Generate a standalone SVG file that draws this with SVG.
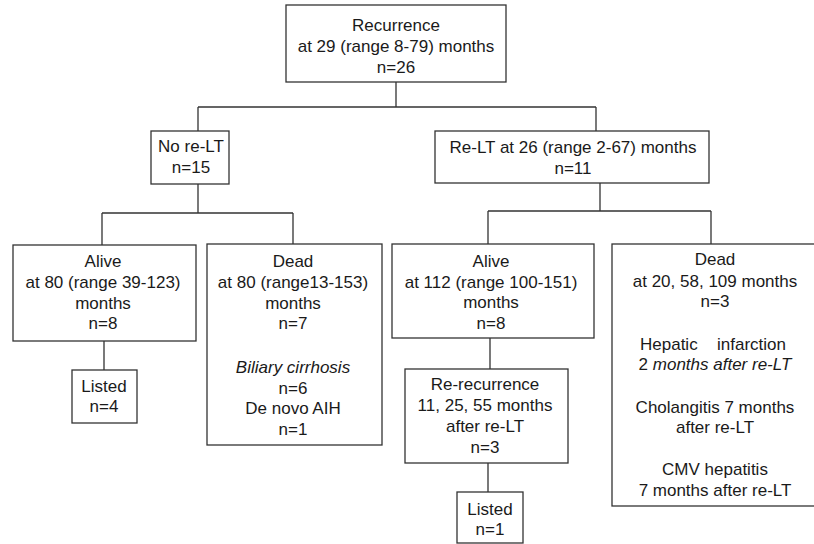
<svg xmlns="http://www.w3.org/2000/svg" width="814" height="544" viewBox="0 0 814 544">
<style>
.box{fill:#fff;stroke:#333;stroke-width:1.3}
.ln{fill:none;stroke:#333;stroke-width:1.3}
text{font-family:"Liberation Sans",Arial,Helvetica,sans-serif;font-size:17px;fill:#1a1a1a;text-anchor:middle}
.it{font-style:italic}
</style>
<rect width="814" height="544" fill="#fff"/>
<g id="connectors">
<path class="ln" d="M396,82 V107 M198,107 H596 M198,107 V131 M596,107 V131"/>
<path class="ln" d="M198,184 V213 M102,213 H293 M102,213 V245 M293,213 V244 M104,341 V370"/>
<path class="ln" d="M600,183 V211 M488,211 H711 M488,211 V244 M711,211 V244 M490,338 V369 M488,463 V492"/>
</g>
<g id="recurrence">
<rect class="box" x="286" y="5" width="220" height="77"/>
<text x="396" y="31">Recurrence</text>
<text x="396" y="52">at 29 (range 8-79) months</text>
<text x="396" y="73">n=26</text>
</g>
<g id="no-relt">
<rect class="box" x="151" y="131" width="78" height="53"/>
<text x="191" y="152">No re-LT</text>
<text x="191" y="173">n=15</text>
</g>
<g id="relt">
<rect class="box" x="435" y="131" width="274" height="52"/>
<text x="573" y="153">Re-LT at 26 (range 2-67) months</text>
<text x="573" y="174">n=11</text>
</g>
<g id="alive-left">
<rect class="box" x="13" y="245" width="183" height="96"/>
<text x="103" y="267">Alive</text>
<text x="103" y="288">at 80 (range 39-123)</text>
<text x="103" y="309">months</text>
<text x="103" y="329">n=8</text>
</g>
<g id="dead-left">
<rect class="box" x="207" y="244" width="175" height="201"/>
<text x="293" y="267">Dead</text>
<text x="293" y="288">at 80 (range13-153)</text>
<text x="293" y="309">months</text>
<text x="293" y="329">n=7</text>
<text x="293" y="373" class="it">Biliary cirrhosis</text>
<text x="293" y="394">n=6</text>
<text x="293" y="414">De novo AIH</text>
<text x="293" y="435">n=1</text>
</g>
<g id="listed-left">
<rect class="box" x="72" y="370" width="65" height="53"/>
<text x="104" y="392">Listed</text>
<text x="104" y="412">n=4</text>
</g>
<g id="alive-right">
<rect class="box" x="392" y="244" width="202" height="94"/>
<text x="491" y="267">Alive</text>
<text x="491" y="288">at 112 (range 100-151)</text>
<text x="491" y="308">months</text>
<text x="491" y="329">n=8</text>
</g>
<g id="rerecurrence">
<rect class="box" x="405" y="369" width="163" height="94"/>
<text x="485" y="390">Re-recurrence</text>
<text x="485" y="411">11, 25, 55 months</text>
<text x="485" y="432">after re-LT</text>
<text x="485" y="453">n=3</text>
</g>
<g id="listed-right">
<rect class="box" x="457" y="492" width="66" height="51"/>
<text x="490" y="515">Listed</text>
<text x="490" y="535">n=1</text>
</g>
<g id="dead-right">
<rect class="box" x="612" y="244" width="206" height="262"/>
<text x="715" y="265">Dead</text>
<text x="715" y="287">at 20, 58, 109 months</text>
<text x="715" y="307">n=3</text>
<text x="640" y="350" style="text-anchor:start">Hepatic</text>
<text x="717" y="350" style="text-anchor:start">infarction</text>
<text x="715" y="370">2 <tspan class="it">months after re-LT</tspan></text>
<text x="715" y="413">Cholangitis 7 months</text>
<text x="715" y="433">after re-LT</text>
<text x="715" y="475">CMV hepatitis</text>
<text x="715" y="496">7 months after re-LT</text>
</g>
</svg>
